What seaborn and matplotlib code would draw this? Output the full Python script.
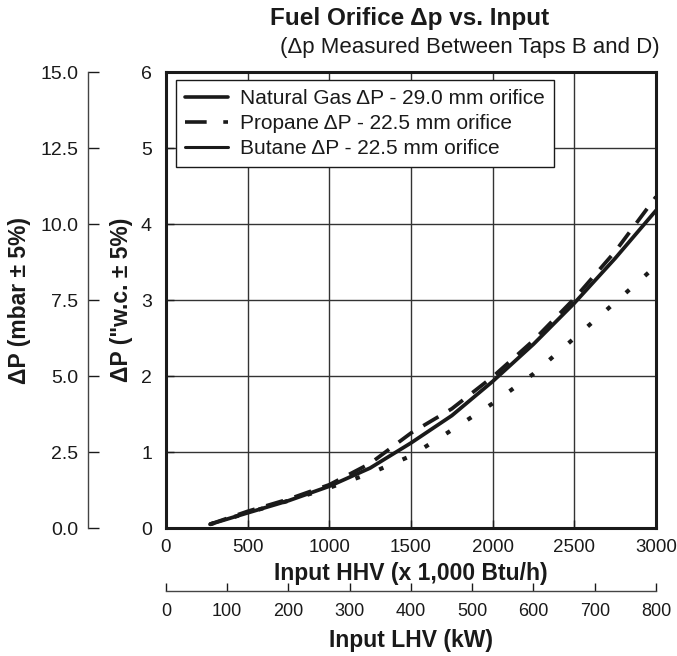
import numpy as np
import matplotlib
matplotlib.use("Agg")
import matplotlib.pyplot as plt
from matplotlib.lines import Line2D
from matplotlib.ticker import FormatStrFormatter
import seaborn as sns

# ---------- Data ----------
hhv         = [270, 500, 750, 1000, 1250, 1500, 1750, 2000, 2250, 2500, 2750, 3000]
natural_gas = [0.05, 0.20, 0.36, 0.55, 0.79, 1.12, 1.48, 1.93, 2.42, 2.96, 3.55, 4.18]
propane     = [0.05, 0.22, 0.38, 0.57, 0.85, 1.25, 1.57, 1.99, 2.47, 3.02, 3.64, 4.36]
butane      = [0.05, 0.20, 0.36, 0.53, 0.72, 0.95, 1.29, 1.64, 2.03, 2.50, 2.97, 3.45]

labels = ["Natural Gas \u0394P - 29.0 mm orifice",
          "Propane \u0394P - 22.5 mm orifice",
          "Butane \u0394P - 22.5 mm orifice"]

hhv_ticks  = np.arange(0, 3001, 500)
wc_ticks   = np.arange(0, 7, 1)
mbar_ticks = np.arange(0, 15.1, 2.5)
lhv_ticks  = np.arange(0, 801, 100)

INK = "#1a1a1a"

# ---------- Style ----------
sns.set_theme(style="white")
plt.rcParams["font.family"] = ["Liberation Sans", "DejaVu Sans"]
plt.rcParams["text.color"] = INK
plt.rcParams["axes.labelcolor"] = INK
plt.rcParams["xtick.color"] = INK
plt.rcParams["ytick.color"] = INK

fig = plt.figure(figsize=(6.77, 6.56), dpi=100)
ax = fig.add_axes([0.245, 0.195, 0.724, 0.695])

# ---------- Curves ----------
sns.lineplot(x=hhv, y=natural_gas, ax=ax, color=INK, lw=2.7, legend=False)
sns.lineplot(x=hhv, y=propane, ax=ax, color=INK, lw=2.7,
             linestyle=(0, (4.7, 3.2)), legend=False)
sns.lineplot(x=hhv, y=butane, ax=ax, color=INK, lw=3.0,
             linestyle=(0, (1.1, 5.0)), legend=False)

ax.set_xlim(0, 3000)
ax.set_ylim(0, 6)
ax.set_xticks(hhv_ticks)
ax.set_yticks(wc_ticks)
ax.grid(True, color="#333333", lw=1)
ax.set_axisbelow(True)
for s in ax.spines.values():
    s.set_color(INK)
    s.set_linewidth(2.2)
ax.tick_params(axis="both", direction="in", length=6, width=1)
ax.tick_params(axis="x", pad=8, labelsize=13.5)
ax.tick_params(axis="y", pad=10, labelsize=14)

ax.set_xlabel("Input HHV (x 1,000 Btu/h)", fontsize=16.5, fontweight="bold")
ax.set_ylabel("\u0394P (\"w.c. \u00b1 5%)", fontsize=16.5, fontweight="bold")
ax.xaxis.set_label_coords(0.5, -0.075)
ax.yaxis.set_label_coords(-0.068, 0.5)

# ---------- Secondary mbar axis (left) ----------
ax_mbar = ax.twinx()
ax_mbar.set_ylim(0, 15)
ax_mbar.set_yticks(mbar_ticks)
ax_mbar.yaxis.set_major_formatter(FormatStrFormatter("%.1f"))
ax_mbar.yaxis.set_ticks_position("left")
ax_mbar.yaxis.set_label_position("left")
for name, s in ax_mbar.spines.items():
    s.set_visible(name == "left")
ax_mbar.spines["left"].set_position(("axes", -0.159))
ax_mbar.spines["left"].set_color("#444444")
ax_mbar.spines["left"].set_linewidth(1)
ax_mbar.tick_params(axis="y", direction="in", length=8, width=1, labelsize=14, pad=7)
ax_mbar.set_ylabel("\u0394P (mbar \u00b1 5%)", fontsize=16.5, fontweight="bold")
ax_mbar.yaxis.set_label_coords(-0.276, 0.5)

# ---------- Secondary LHV axis (bottom) ----------
ax_lhv = ax.twiny()
ax_lhv.set_xlim(0, 800)
ax_lhv.set_xticks(lhv_ticks)
ax_lhv.xaxis.set_ticks_position("bottom")
ax_lhv.xaxis.set_label_position("bottom")
for name, s in ax_lhv.spines.items():
    s.set_visible(name == "bottom")
ax_lhv.spines["bottom"].set_position(("axes", -0.138))
ax_lhv.spines["bottom"].set_color("#444444")
ax_lhv.spines["bottom"].set_linewidth(1)
ax_lhv.tick_params(axis="x", direction="in", length=6, width=1, labelsize=13, pad=9)
ax_lhv.set_xlabel("Input LHV (kW)", fontsize=16.5, fontweight="bold")
ax_lhv.xaxis.set_label_coords(0.5, -0.222)

# ---------- Legend ----------
handles = [
    Line2D([], [], color=INK, lw=2.6),
    Line2D([], [], color=INK, lw=2.6, linestyle=(0, (6.0, 4.6, 1.7, 4.6))),
    Line2D([], [], color=INK, lw=2.2),
]
leg = ax.legend(handles, labels, loc="upper left", bbox_to_anchor=(0.02, 0.983),
                borderaxespad=0, fontsize=15, handlelength=2.07, handletextpad=0.55,
                labelspacing=0.28, borderpad=0.45, fancybox=False, framealpha=1,
                edgecolor=INK)
leg.get_frame().set_linewidth(1)

# ---------- Titles ----------
fig.text(410 / 677, 1 - 18 / 656, "Fuel Orifice \u0394p vs. Input", ha="center",
         va="center", fontsize=17.5, fontweight="bold")
fig.text(470 / 677, 1 - 47 / 656, "(\u0394p Measured Between Taps B and D)", ha="center",
         va="center", fontsize=16)

fig.savefig("out.png", dpi=100)
